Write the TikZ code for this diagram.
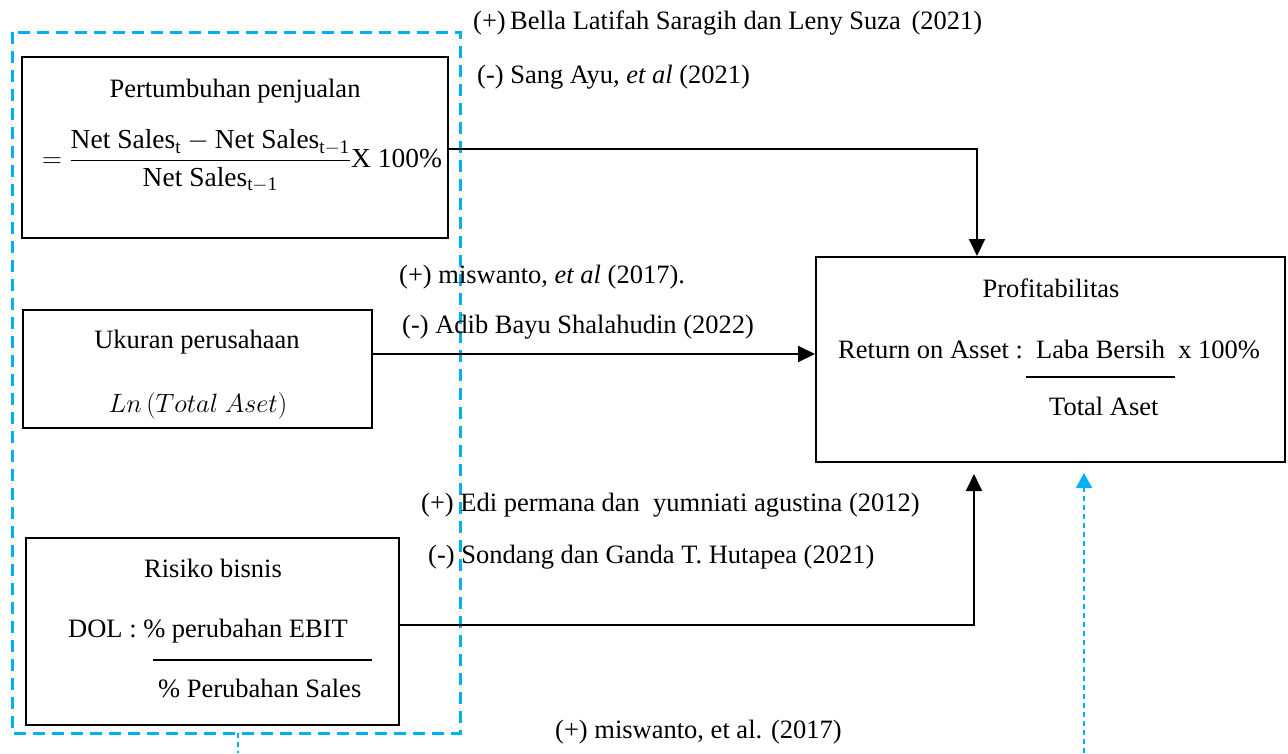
\RequirePackage{fix-cm}
\documentclass[tikz,border=0pt]{standalone}
\usepackage{fontspec}
\setmainfont{Liberation Serif}
\usetikzlibrary{arrows.meta,calc}
\definecolor{dblue}{RGB}{0,176,240}
\begin{document}
\begin{tikzpicture}[x=1pt,y=-1pt,
  txt/.style={font=\fontsize{26.5}{32}\selectfont, inner sep=0pt},
  mtxt/.style={font=\fontsize{27.5}{33}\selectfont, inner sep=0pt},
  box/.style={draw, line width=2pt, inner sep=0pt},
  conn/.style={line width=2pt},
  arr/.style={line width=2pt, -{Triangle[length=17pt,width=16pt]}},
  grp/.style={draw=dblue, line width=3pt, dash pattern=on 12pt off 7pt},
  thinblue/.style={draw=dblue, line width=1.5pt, dash pattern=on 5pt off 4pt},
  bluearr/.style={thinblue, -{Triangle[length=15pt,width=16pt,fill=dblue]}}]
\useasboundingbox (0,0) rectangle (1288,753);

% group (dashed blue)
\coordinate (gTL) at (12,32);
\coordinate (gBR) at (460,733);
\draw[grp] (gTL) rectangle (gBR);

% boxes
\node[box, minimum width=426pt, minimum height=181pt] (b1) at (235,147.5) {};
\node[box, minimum width=349pt, minimum height=118pt] (b2) at (197.5,369) {};
\node[box, minimum width=373pt, minimum height=187pt] (b3) at (212.5,631.5) {};
\node[box, minimum width=469pt, minimum height=205pt] (pr) at (1050.5,359.5) {};

% box 1 texts
\node[txt, anchor=base] (t1a) at (235,97) {Pertumbuhan penjualan};
\node[mtxt] (t1b) at (242,161) {$=\displaystyle\frac{\mathrm{Net\ Sales_t}-\mathrm{Net\ Sales_{t-1}}}{\mathrm{Net\ Sales_{t-1}}}\mathrm{X\ 100\%}$};

% box 2 texts
\node[txt, anchor=base] (t2a) at (197,348) {Ukuran perusahaan};
\node[txt, anchor=base] (t2b) at (198,412) {$Ln\,(Total\ Aset)$};

% box 3 texts
\node[txt, anchor=base] (t3a) at (213,577) {Risiko bisnis};
\node[txt, anchor=base west] (t3b) at (68,637) {DOL : \% perubahan EBIT};
\node[txt, anchor=base west] (t3c) at (158,697) {\% Perubahan Sales};
\coordinate (f3a) at (153,660);
\coordinate (f3b) at (372,660);
\draw[conn] (f3a) -- (f3b);

% profitabilitas texts
\node[txt, anchor=base] (tpa) at (1051,297) {Profitabilitas};
\node[txt, anchor=base west] (tpb) at (838,358) {Return on Asset :\ \ Laba Bersih\ \ x 100\%};
\node[txt, anchor=base west] (tpc) at (1049,415) {Total Aset};
\coordinate (fpa) at (1026,377);
\coordinate (fpb) at (1175,377);
\draw[conn] (fpa) -- (fpb);

% labels
\node[txt, anchor=base west] (l1) at (473,29) {(+)\,Bella Latifah Saragih dan Leny Suza\hspace{0.4em}(2021)};
\node[txt, anchor=base west] (l2) at (477,83) {(-) Sang Ayu, \textit{et al} (2021)};
\node[txt, anchor=base west] (l3) at (399,283) {(+) miswanto, \textit{et al} (2017).};
\node[txt, anchor=base west] (l4) at (402,333) {(-) Adib Bayu Shalahudin (2022)};
\node[txt, anchor=base west] (l5) at (421,511) {(+) Edi permana dan\ \ yumniati agustina (2012)};
\node[txt, anchor=base west] (l6) at (428,563) {(-) Sondang dan Ganda T. Hutapea (2021)};
\node[txt, anchor=base west] (l7) at (555,738) {(+) miswanto, et al. (2017)};

% connectors
\coordinate (j1) at (977,149);
\draw[arr] ([yshift=-1.5pt]b1.east) -- (j1) -- (j1 |- pr.north);
\draw[arr] ([yshift=15pt]b2.east) coordinate (s2) -- (s2 -| pr.west);
\coordinate (j3) at (974,625);
\draw[arr] ([yshift=6.5pt]b3.east) -- (j3) -- ([yshift=-11pt]j3 |- pr.south);

% blue dotted connectors
\coordinate (gb) at (238,733);
\coordinate (gbe) at (238,753);
\draw[thinblue] (gb) -- (gbe);
\coordinate (ba) at (1084,753);
\coordinate (bt) at (1084,473);
\draw[bluearr] (ba) -- (bt);
\end{tikzpicture}
\end{document}
